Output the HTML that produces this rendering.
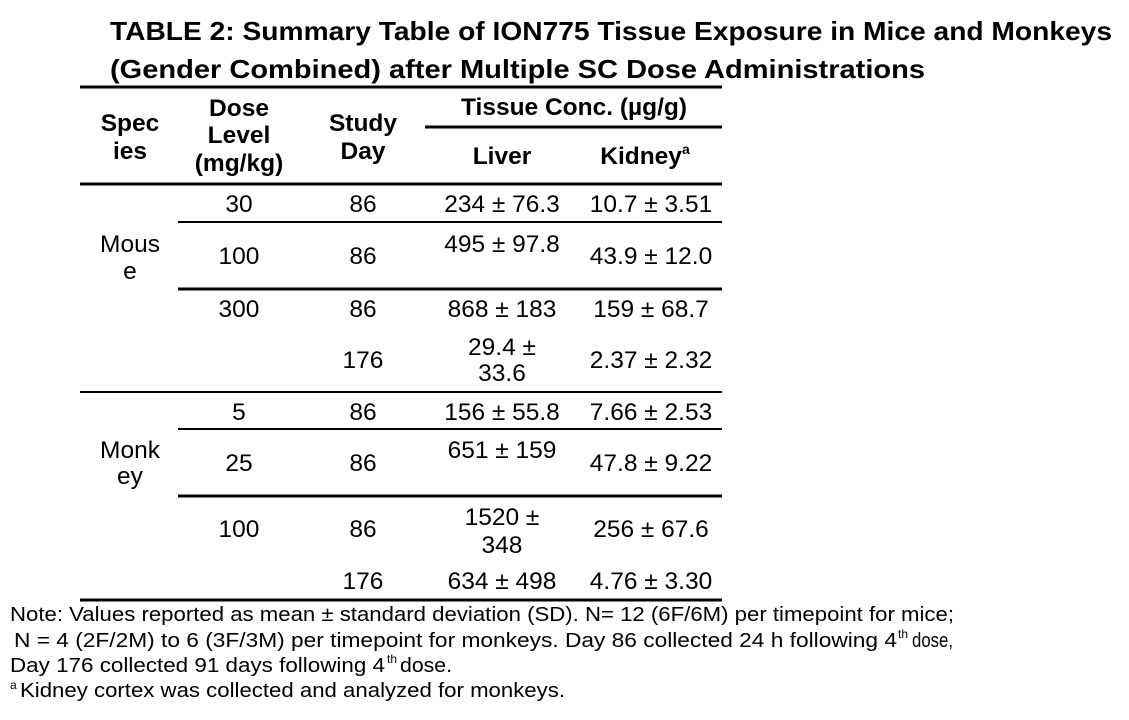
<!DOCTYPE html>
<html><head><meta charset="utf-8"><style>
html,body{margin:0;padding:0;background:#fff;}
svg{display:block;}
text{font-family:"Liberation Sans",Arial,sans-serif;fill:#000;}
.c{font-size:24.5px;text-anchor:middle;}
.h{font-size:24.5px;font-weight:bold;text-anchor:middle;}
.t{font-size:26px;font-weight:bold;}
.n{font-size:20px;}
.s{font-size:12px;}
</style></head><body>
<svg width="1129" height="720" viewBox="0 0 1129 720">
<g>
<text class="t" x="110" y="40" textLength="1002" lengthAdjust="spacingAndGlyphs">TABLE 2: Summary Table of ION775 Tissue Exposure in Mice and Monkeys</text>
<text class="t" x="110" y="78" textLength="815" lengthAdjust="spacingAndGlyphs">(Gender Combined) after Multiple SC Dose Administrations</text>
</g>
<g stroke="#000">
<line x1="80" y1="87" x2="722" y2="87" stroke-width="3"/>
<line x1="425" y1="127" x2="722" y2="127" stroke-width="3"/>
<line x1="80" y1="184" x2="722" y2="184" stroke-width="3"/>
<line x1="178" y1="222" x2="722" y2="222" stroke-width="2"/>
<line x1="178" y1="289" x2="722" y2="289" stroke-width="3"/>
<line x1="80" y1="392" x2="722" y2="392" stroke-width="2"/>
<line x1="178" y1="429" x2="722" y2="429" stroke-width="2"/>
<line x1="178" y1="496" x2="722" y2="496" stroke-width="3"/>
<line x1="80" y1="600" x2="722" y2="600" stroke-width="3"/>
</g>
<g>
<text class="h" x="130" y="131">Spec</text><text class="h" x="130" y="159">ies</text>
<text class="h" x="239" y="116">Dose</text><text class="h" x="239" y="143">Level</text><text class="h" x="239" y="171">(mg/kg)</text>
<text class="h" x="363" y="131">Study</text><text class="h" x="363" y="159">Day</text>
<text class="h" x="574" y="115">Tissue Conc. (µg/g)</text>
<text class="h" x="502" y="164">Liver</text>
<text class="h" x="645" y="164">Kidney<tspan font-size="14" dy="-10">a</tspan></text>
</g>
<g>
<text class="c" x="130" y="252">Mous</text><text class="c" x="130" y="279">e</text>
<text class="c" x="239" y="212">30</text><text class="c" x="363" y="212">86</text><text class="c" x="502" y="212">234 ± 76.3</text><text class="c" x="651" y="212">10.7 ± 3.51</text>
<text class="c" x="239" y="264">100</text><text class="c" x="363" y="264">86</text><text class="c" x="502" y="252">495 ± 97.8</text><text class="c" x="651" y="264">43.9 ± 12.0</text>
<text class="c" x="239" y="317">300</text><text class="c" x="363" y="317">86</text><text class="c" x="502" y="317">868 ± 183</text><text class="c" x="651" y="317">159 ± 68.7</text>
<text class="c" x="363" y="368">176</text><text class="c" x="502" y="355">29.4 ±</text><text class="c" x="502" y="381">33.6</text><text class="c" x="651" y="368">2.37 ± 2.32</text>
<text class="c" x="130" y="458">Monk</text><text class="c" x="130" y="484">ey</text>
<text class="c" x="239" y="420">5</text><text class="c" x="363" y="420">86</text><text class="c" x="502" y="420">156 ± 55.8</text><text class="c" x="651" y="420">7.66 ± 2.53</text>
<text class="c" x="239" y="471">25</text><text class="c" x="363" y="471">86</text><text class="c" x="502" y="458">651 ± 159</text><text class="c" x="651" y="471">47.8 ± 9.22</text>
<text class="c" x="239" y="537">100</text><text class="c" x="363" y="537">86</text><text class="c" x="502" y="525">1520 ±</text><text class="c" x="502" y="553">348</text><text class="c" x="651" y="537">256 ± 67.6</text>
<text class="c" x="363" y="589">176</text><text class="c" x="502" y="589">634 ± 498</text><text class="c" x="651" y="589">4.76 ± 3.30</text>
</g>
<g>
<text class="n" x="10" y="621" textLength="944" lengthAdjust="spacingAndGlyphs">Note: Values reported as mean ± standard deviation (SD). N= 12 (6F/6M) per timepoint for mice;</text>
<text class="n" x="14" y="647" textLength="883" lengthAdjust="spacingAndGlyphs">N = 4 (2F/2M) to 6 (3F/3M) per timepoint for monkeys.  Day 86 collected 24 h following 4</text>
<text class="s" x="898" y="638">th</text>
<text class="n" x="912" y="647" textLength="41" lengthAdjust="spacingAndGlyphs">dose,</text>
<text class="n" x="10" y="672" textLength="375" lengthAdjust="spacingAndGlyphs">Day 176 collected 91 days following 4</text>
<text class="s" x="387" y="663">th</text>
<text class="n" x="400" y="672" textLength="52" lengthAdjust="spacingAndGlyphs">dose.</text>
<text class="s" x="10" y="689">a</text>
<text class="n" x="20" y="697" textLength="545" lengthAdjust="spacingAndGlyphs">Kidney cortex was collected and analyzed for monkeys.</text>
</g>
</svg>
</body></html>
